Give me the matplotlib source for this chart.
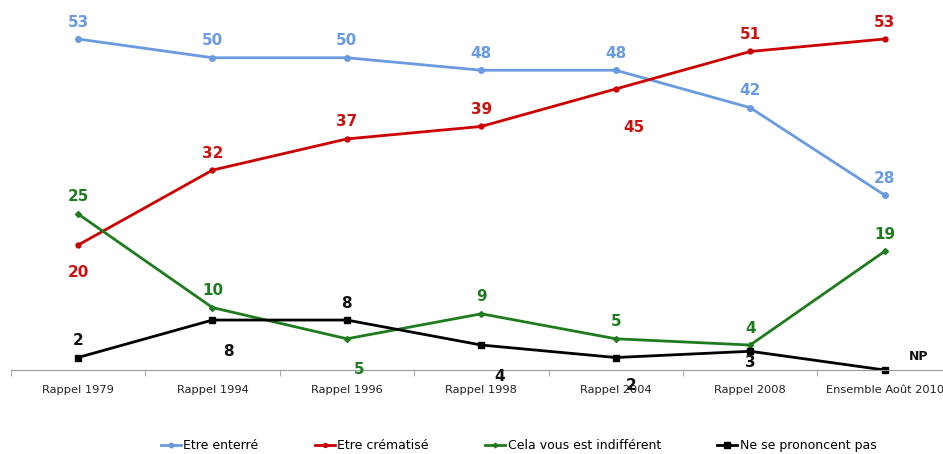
import matplotlib
matplotlib.use('Agg')
import matplotlib.pyplot as plt

categories = ["Rappel 1979", "Rappel 1994", "Rappel 1996", "Rappel 1998",
              "Rappel 2004", "Rappel 2008", "Ensemble Août 2010"]
enterre = [53, 50, 50, 48, 48, 42, 28]
crematise = [20, 32, 37, 39, 45, 51, 53]
indifferent = [25, 10, 5, 9, 5, 4, 19]
nsp = [2, 8, 8, 4, 2, 3, 0]
nsp_labels = ["2", "8", "8", "4", "2", "3", "NP"]

# label offsets in pixels (dx, dy) relative to the point, dy positive = up
off_blue = [(0, 17)] * 7
off_red = [(0, -27), (0, 17), (0, 17), (0, 17), (18, -39), (0, 17), (0, 17)]
off_green = [(0, 17), (0, 17), (12, -31), (0, 17), (0, 17), (0, 17), (0, 17)]
off_black = [(0, 17), (16, -31), (0, 17), (18, -31), (15, -28), (0, -11), (34, 14)]

fig = plt.figure(figsize=(9.43, 4.54), dpi=100)
ax = fig.add_axes([0.0114, 0.185, 0.998, 0.7566])

x = list(range(len(categories)))
series = [
    ("Etre enterré", enterre, "#6a9ae0", "#6a9ae0", "o", 4, off_blue, [str(v) for v in enterre]),
    ("Etre crématisé", crematise, "#cc0000", "#cc1111", "o", 3.5, off_red, [str(v) for v in crematise]),
    ("Cela vous est indifférent", indifferent, "#1e7b1e", "#1e7b1e", "D", 3, off_green, [str(v) for v in indifferent]),
    ("Ne se prononcent pas", nsp, "#000000", "#111111", "s", 5, off_black, nsp_labels),
]

for name, vals, col, lcol, mk, ms, offs, labs in series:
    ax.plot(x, vals, color=col, lw=2, marker=mk, ms=ms, label=name, clip_on=False)
    for xi, v, (dx, dy), lab in zip(x, vals, offs, labs):
        ax.annotate(lab, (xi, v), xytext=(dx * 0.72, dy * 0.72), textcoords="offset points",
                    ha="center", va="center", fontweight="bold", color=lcol,
                    fontsize=9 if lab == "NP" else 11, annotation_clip=False)

ax.set_xlim(-0.5, 6.5)
ax.set_ylim(0, 55)
for s in ["top", "left", "right"]:
    ax.spines[s].set_visible(False)
ax.spines["bottom"].set_color("#999999")
ax.set_yticks([])
ax.set_xticks(x)
ax.set_xticklabels(categories, fontsize=8.2, color="#222222")
ax.tick_params(axis="x", length=0, pad=11)
ax.set_xticks([i + 0.5 for i in range(-1, 7)], minor=True)
ax.tick_params(axis="x", which="minor", length=4, color="#999999", direction="out")

fig.legend(loc="center", bbox_to_anchor=(0.55, 0.018), ncol=4, frameon=False,
           fontsize=9, handlelength=1.6, handletextpad=0.2, columnspacing=4.5,
           markerscale=0.8)

fig.savefig("out.png", dpi=100)
plt.close(fig)
